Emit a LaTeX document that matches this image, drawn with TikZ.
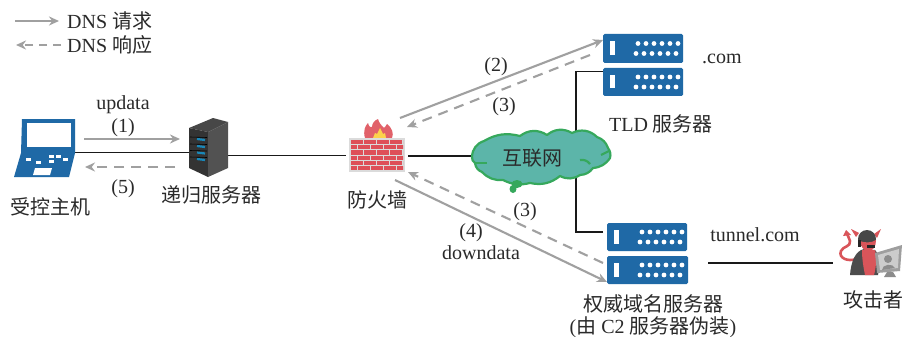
\documentclass[tikz,border=0pt]{standalone}
\usepackage{fontspec}
\setmainfont{Liberation Serif}
\newfontfamily\cjk{Noto Sans CJK SC}
\usetikzlibrary{arrows.meta,calc}
\definecolor{srvblue}{HTML}{1F69A6}
\definecolor{reqgray}{HTML}{A0A0A0}
\definecolor{cloudfill}{HTML}{5CB5A9}
\definecolor{cloudline}{HTML}{36A85C}
\definecolor{brick}{HTML}{DE4F58}
\definecolor{txt}{HTML}{2A2A2A}
\definecolor{devil}{HTML}{D9555A}
\tikzset{
  lbl/.style={font=\fontsize{20}{22}\selectfont,text=txt,inner sep=0pt,align=center},
  cjklbl/.style={font=\fontsize{20}{22}\selectfont\cjk,text=txt,inner sep=0pt,align=center},
  slot/.style={inner sep=0pt,outer sep=0pt,rectangle},
  wire/.style={line width=1.8pt,black!90},
  req/.style={line width=2.1pt,reqgray,-{Stealth[length=10pt,width=9pt]}},
  resp/.style={line width=2.1pt,reqgray,dash pattern=on 10pt off 7pt,-{Stealth[length=10pt,width=9pt]}},
  srvbody/.style={fill=srvblue,rounded corners=1.5pt,draw=none},
}
\newcommand{\rackicon}[1]{%
  \fill[srvbody] (#1.north west) rectangle (#1.south east);
  \fill[white] ($(#1.west)+(6.5,-7)$) rectangle ($(#1.west)+(11.5,6.5)$);
  \foreach \i in {0,...,5}{
    \fill[white] ($(#1.west)+(35+\i*8,-5)$) circle (2.4);
    \fill[white] ($(#1.west)+(33+\i*8,5)$) circle (2.4);
  }%
}
\begin{document}
\begin{tikzpicture}[x=1pt,y=-1pt]
\useasboundingbox (0,0) rectangle (903,337);
\fill[white] (0,0) rectangle (903,337);

% placement of the devices
\node[slot,minimum width=61,minimum height=58] (host) at (44.5,148) {};
\node[slot,minimum width=39,minimum height=59] (resolver) at (208.5,147.5) {};
\node[slot,minimum width=56,minimum height=53] (firewall) at (377,145.5) {};
\node[slot,minimum width=138,minimum height=53] (internet) at (541,157.5) {};
\node[slot,minimum width=80,minimum height=29] (tldA) at (643,48.5) {};
\node[slot,minimum width=80,minimum height=28] (tldB) at (643,82) {};
\node[slot,minimum width=80,minimum height=28] (authA) at (647,237) {};
\node[slot,minimum width=81,minimum height=28] (authB) at (647.5,270) {};
\node[slot,minimum width=66,minimum height=48] (attacker) at (870,251) {};
\coordinate (legAs) at (15,21); \coordinate (legAe) at (59,21);
\coordinate (legBs) at (61,45); \coordinate (legBe) at (16,45);

% wires
\draw[wire] ([yshift=-4.5]host.east) -- ([yshift=-4.5]host.east -| resolver.center);
\draw[wire] ([yshift=-8]resolver.east) -- ([xshift=-3,yshift=-8]resolver.east -| firewall.west);
\draw[wire] ([xshift=3,yshift=-10.5]firewall.east) -- ([yshift=-10.5]firewall.east -| internet.center);
\draw[wire] ([yshift=10.5]tldB.west) -| ([xshift=35]internet.center);
\draw[wire] ([xshift=-4]authA.west |- authA.north) ++(0,9) coordinate (authT) (authT) -| ([xshift=35]internet.center);
\draw[wire] ([xshift=20,yshift=7]authB.east) -- ([xshift=-4,yshift=7]authB.east -| attacker.west);

% DNS arrows
\draw[req] (legAs) -- (legAe);
\draw[resp,dash pattern=on 8pt off 6pt] (legBs) -- (legBe);
\draw[req] ([xshift=9,yshift=9]host.east) -- ([xshift=-9,yshift=8.5]resolver.west);
\draw[resp] ([xshift=-14,yshift=-19.5]resolver.west) -- ([xshift=10,yshift=-19]host.east);
\draw[req] ([xshift=-5,yshift=1]firewall.north east) -- ([yshift=8.5]tldA.west);
\draw[resp] ([xshift=-13,yshift=-6.5]tldA.west) -- ([xshift=2,yshift=-8]firewall.north east);
\draw[resp] ([xshift=-4,yshift=7]authB.west) -- ([xshift=3,yshift=0]firewall.south east);
\draw[req] ([xshift=-10,yshift=-8]firewall.south east) -- ([xshift=0,yshift=-12]authB.west);

% laptop
\fill[srvblue] (22,119) -- (75,119) -- (75,153) -- (69,177) -- (14,177) -- (21,153) -- cycle;
\fill[white] (27,123) rectangle (71,147);
\fill[white] (33,175) -- (35,168) -- (52,168) -- (50,175) -- cycle;
\foreach \kx/\ky in {26/161,36/164,49/163,49/158,56/158,63/161}{
  \fill[white] (\kx,\ky) rectangle ++(4.5,-3);
}

% tower server
\fill[black!72] (189,128) -- (213,118) -- (228,122) -- (208,132) -- cycle;
\fill[black!80] (189,128) -- (208,132) -- (208,177) -- (189,168) -- cycle;
\fill[black!68] (208,132) -- (228,122) -- (228,168) -- (208,177) -- cycle;
\foreach \ly in {139,146,152.5,159}{
  \draw[line width=2.2pt,srvblue!80!cyan] (197,\ly) -- (205,\ly+1);
  \draw[line width=.6pt,black] (190,\ly-2) -- (207,\ly+.5-2);
}

% firewall
\path[fill=brick!90!white] (365,138) .. controls (363,131) and (365,126) .. (368,123)
  .. controls (369,127) and (371,128) .. (372,127) .. controls (372,123) and (375,120) .. (378,119)
  .. controls (379,123) and (382,126) .. (384,128) .. controls (385,127) and (386,126) .. (387,124)
  .. controls (392,128) and (394,133) .. (392,138) -- cycle;
\path[fill=yellow!55!orange!70] (373,138) -- (375,133) -- (377,134) -- (380,128) -- (383,134) -- (385,133) -- (386,138) -- cycle;
\fill[black!14] (349,138) rectangle (405,172);
\begin{scope}
\clip (351,140) rectangle (403,170.5);
\foreach \r in {0,...,5}{
  \pgfmathsetmacro{\ry}{140+\r*5.2}
  \pgfmathsetmacro{\off}{mod(\r,2)*6.5}
  \foreach \c in {-1,...,4}{
    \fill[brick] (351+\off+\c*13,\ry) rectangle ++(12,4.2);
  }
}
\end{scope}

% cloud
\path[fill=cloudfill,draw=cloudline,line width=2.2pt,line join=round]
  (472,157) to[bend left=35] (484,141) to[bend left=22] (520,136) to[bend left=35] (547,135)
  to[bend left=35] (572,133) to[bend left=35] (597,137) to[bend left=25] (608,148)
  to[bend left=25] (610,158) to[bend left=25] (593,168) to[bend left=25] (580,175)
  to[bend left=30] (560,176) to[bend left=25] (530,183) to[bend left=20] (503,180)
  to[bend left=25] (482,172) to[bend left=30] (475,163) to[bend left=30] (472,157) -- cycle;
\draw[cloudline,line width=2.2pt] (475,163) -- (487,163);
\draw[cloudline,line width=2.2pt] (609,151) -- (601,155);
\draw[cloudline,line width=2.2pt] (580,160) to[bend left=30] (590,164);
\fill[cloudline] (517,184) ellipse (5.5 and 4);
\fill[cloudline] (513,189) ellipse (3.5 and 4);

% rack servers
\rackicon{tldA}
\rackicon{tldB}
\rackicon{authA}
\rackicon{authB}

% attacker
\draw[devil,line width=2.6pt] (856,259) .. controls (848,262) and (838,258) .. (841,251)
  .. controls (843,246) and (851,247) .. (850,241) .. controls (849,238) and (848,236) .. (847,234);
\fill[devil] (843,236) -- (846,230) -- (851,235) -- cycle;
\fill[black!70] (850,275) .. controls (851,262) and (855,251) .. (864,249) -- (875,250)
  .. controls (880,255) and (880,265) .. (878,275) -- cycle;
\fill[devil] (862,250) -- (875,250) .. controls (877,258) and (876,268) .. (874,275) -- (865,275) .. controls (863,265) and (862,258) .. (862,250) -- cycle;
\fill[devil] (851,229) -- (859,233) -- (856,237) -- cycle;
\fill[devil] (881,229) -- (874,234) -- (877,238) -- cycle;
\fill[black!72] (867,239) ellipse (9 and 9);
\fill[devil] (860,241) .. controls (864,243) and (872,243) .. (876,240) .. controls (876,247) and (873,251) .. (868,251) .. controls (863,251) and (861,246) .. (860,241) -- cycle;
\fill[black!85] (867,248) rectangle (875,244.5);
\fill[black!85] (858,240) rectangle (861,247);
\fill[black!38] (875,253) -- (902,245) -- (900,271) -- (877,273) -- cycle;
\fill[black!20] (878,255) -- (899,249) -- (898,268) -- (880,270) -- cycle;
\fill[black!45] (887,272) -- (893,272) -- (896,277) -- (884,277) -- cycle;
\fill[black!45] (888,259) circle (4);
\fill[black!45] (882,270) .. controls (882,264) and (893,263) .. (895,268) -- cycle;

% labels
\node[lbl,anchor=west] (legA) at (67,21) {DNS {\cjk 请求}};
\node[lbl,anchor=west] (legB) at (67,45) {DNS {\cjk 响应}};
\node[lbl] (t1) at (123,105) {updata};
\node[lbl] (t2) at (123,128) {(1)};
\node[lbl] (t3) at (123,189) {(5)};
\node[cjklbl] (t4) at (211,195) {递归服务器};
\node[cjklbl] (t5) at (50,207) {受控主机};
\node[cjklbl] (t6) at (377,200) {防火墙};
\node[lbl] (t7) at (496,67) {(2)};
\node[lbl] (t8) at (504,107) {(3)};
\node[lbl,anchor=west] (t9) at (702,58.5) {.com};
\node[lbl] (t10) at (661,124) {TLD {\cjk 服务器}};
\node[cjklbl] (t11) at (532,158) {互联网};
\node[lbl] (t12) at (525,212) {(3)};
\node[lbl] (t13) at (471,233) {(4)};
\node[lbl] (t14) at (481,253) {downdata};
\node[lbl] (t15) at (755,235) {tunnel.com};
\node[cjklbl] (t16) at (653,304) {权威域名服务器};
\node[lbl] (t17) at (653,327) {({\cjk 由} C2 {\cjk 服务器伪装})};
\node[cjklbl] (t18) at (873,300) {攻击者};
\end{tikzpicture}
\end{document}
